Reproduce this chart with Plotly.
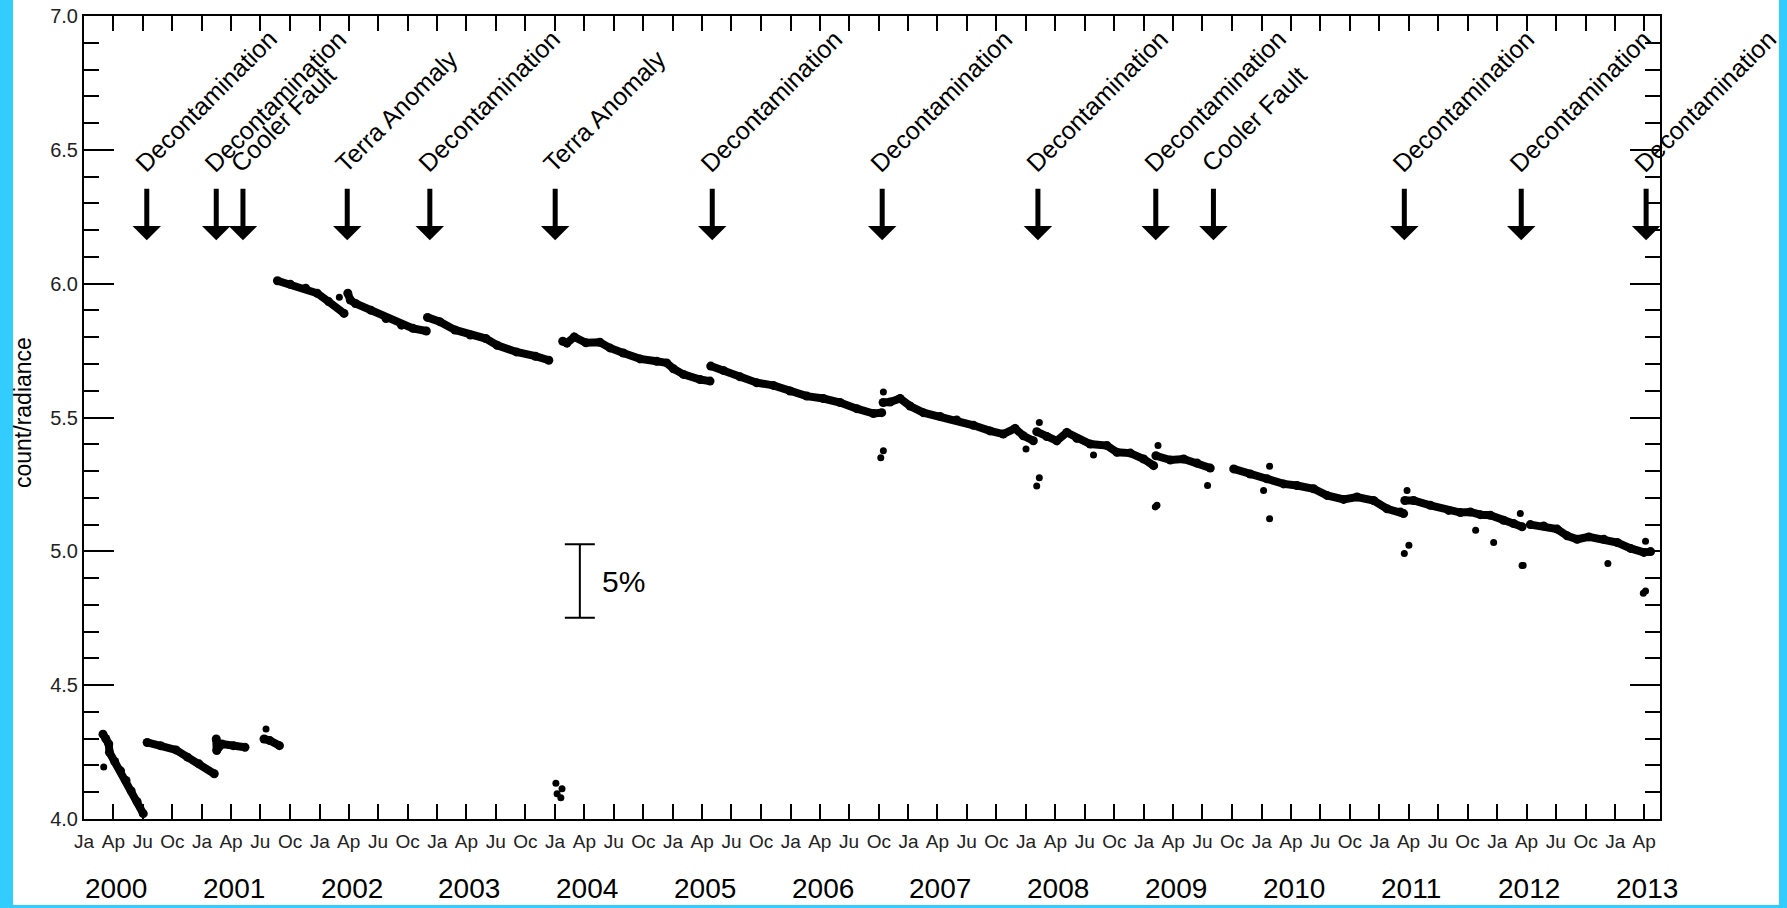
import pandas as pd
import plotly.graph_objects as go

# ---------------- data (decimal years, count/radiance) ----------------
seg_years = [
    [2000.161, 2000.185, 2000.210, 2000.216, 2000.260, 2000.310, 2000.356, 2000.400, 2000.450, 2000.502],
    [2000.535, 2000.649, 2000.779, 2000.877, 2000.974, 2001.104],
    [2001.121, 2001.125, 2001.169, 2001.267, 2001.365],
    [2001.527, 2001.576, 2001.658],
    [2001.641, 2001.750, 2001.881, 2001.979, 2002.076, 2002.207],
    [2002.239, 2002.260, 2002.304, 2002.434, 2002.564, 2002.695, 2002.792, 2002.906],
    [2002.916, 2003.020, 2003.150, 2003.280, 2003.411, 2003.508, 2003.671, 2003.833, 2003.947],
    [2004.065, 2004.100, 2004.163, 2004.261, 2004.380, 2004.465, 2004.578, 2004.720, 2004.861,
     2004.946, 2005.003, 2005.088, 2005.229, 2005.314],
    [2005.320, 2005.427, 2005.569, 2005.711, 2005.852, 2005.994, 2006.136, 2006.277, 2006.419,
     2006.561, 2006.702, 2006.773],
    [2006.785, 2006.844, 2006.929, 2007.014, 2007.127, 2007.269, 2007.410, 2007.552, 2007.693,
     2007.806, 2007.906, 2007.976, 2008.061],
    [2008.090, 2008.175, 2008.260, 2008.345, 2008.430, 2008.543, 2008.685, 2008.770, 2008.883,
     2008.996, 2009.081],
    [2009.100, 2009.223, 2009.336, 2009.449, 2009.562],
    [2009.761, 2009.902, 2010.044, 2010.185, 2010.299, 2010.440, 2010.554, 2010.695, 2010.809,
     2010.950, 2011.064, 2011.177, 2011.205],
    [2011.215, 2011.290, 2011.432, 2011.588, 2011.687, 2011.772, 2011.857, 2011.942, 2012.054,
     2012.139, 2012.211],
    [2012.281, 2012.394, 2012.508, 2012.593, 2012.678, 2012.777, 2012.904, 2013.018, 2013.131,
     2013.244, 2013.301],
]
seg_vals = [
    [4.317, 4.300, 4.280, 4.249, 4.215, 4.180, 4.144, 4.105, 4.065, 4.020],
    [4.286, 4.274, 4.258, 4.231, 4.206, 4.169],
    [4.299, 4.256, 4.280, 4.274, 4.268],
    [4.299, 4.293, 4.274],
    [6.011, 5.998, 5.983, 5.964, 5.933, 5.889],
    [5.964, 5.939, 5.926, 5.901, 5.870, 5.845, 5.833, 5.823],
    [5.874, 5.858, 5.827, 5.808, 5.795, 5.770, 5.745, 5.729, 5.714],
    [5.785, 5.778, 5.801, 5.779, 5.781, 5.760, 5.741, 5.719, 5.710,
     5.704, 5.682, 5.661, 5.642, 5.636],
    [5.692, 5.676, 5.652, 5.630, 5.620, 5.599, 5.580, 5.571, 5.556,
     5.533, 5.515, 5.518],
    [5.556, 5.558, 5.571, 5.543, 5.518, 5.504, 5.491, 5.471, 5.450,
     5.438, 5.459, 5.432, 5.413],
    [5.447, 5.429, 5.413, 5.444, 5.422, 5.401, 5.395, 5.370, 5.367,
     5.345, 5.320],
    [5.357, 5.341, 5.345, 5.330, 5.311],
    [5.308, 5.289, 5.271, 5.252, 5.246, 5.234, 5.209, 5.194, 5.203,
     5.190, 5.159, 5.147, 5.141],
    [5.190, 5.190, 5.172, 5.153, 5.145, 5.147, 5.137, 5.135, 5.116,
     5.104, 5.092],
    [5.100, 5.095, 5.083, 5.058, 5.045, 5.054, 5.045, 5.033, 5.011,
     4.996, 4.999],
]

outlier_years = [2000.167, 2001.544, 2002.167, 2004.007, 2004.059, 2004.017, 2004.049,
                 2006.787, 2006.787, 2006.765, 2007.999, 2008.112, 2008.112, 2008.090,
                 2008.571, 2009.118, 2009.109, 2009.095, 2009.539, 2010.066, 2010.015,
                 2010.066, 2011.234, 2011.250, 2011.211, 2011.817, 2011.970, 2012.196,
                 2012.211, 2012.220, 2012.938, 2013.258, 2013.258, 2013.239]
outlier_vals = [4.194, 4.336, 5.949, 4.134, 4.113, 4.094, 4.079,
                5.595, 5.376, 5.350, 5.382, 5.481, 5.275, 5.244,
                5.360, 5.395, 5.172, 5.166, 5.246, 5.318, 5.227,
                5.122, 5.227, 5.023, 4.992, 5.079, 5.033, 5.141,
                4.947, 4.947, 4.955, 5.038, 4.852, 4.843]

event_years = [2000.532, 2001.121, 2001.348, 2002.234, 2002.936, 2004.001, 2005.333,
               2006.777, 2008.100, 2009.099, 2009.589, 2011.211, 2012.204, 2013.263]
event_labels = ["Decontamination", "Decontamination", "Cooler Fault", "Terra Anomaly",
                "Decontamination", "Terra Anomaly", "Decontamination", "Decontamination",
                "Decontamination", "Decontamination", "Cooler Fault", "Decontamination",
                "Decontamination", "Decontamination"]

year_labels = [str(y) for y in range(2000, 2014)]
month_labels = ["Ja", "Ap", "Ju", "Oc"]

scale_bar_year = 2004.210
scale_bar_center = 4.889
scale_bar_half = 0.1375
scale_bar_text = "5%"

y_title = "count/radiance"


# ---------------- helpers ----------------
def to_date(v):
    y = int(v)
    start = pd.Timestamp(year=y, month=1, day=1)
    end = pd.Timestamp(year=y + 1, month=1, day=1)
    return start + (v - y) * (end - start)


FONT = "Liberation Sans, Arial, sans-serif"
BLACK = "#000000"
CYAN = "#33CCFF"

# plot-area geometry (px)
W, H = 1787, 908
ML, MR, MT, MB = 84, 127, 16, 89
PW, PH = W - ML - MR, H - MT - MB


def px_x(px):
    return (px - ML) / PW


def px_y(py):
    return (H - MB - py) / PH


fig = go.Figure()

# main segments (dense dots drawn as thick band)
xs, ys = [], []
for yrs, vals in zip(seg_years, seg_vals):
    xs += [to_date(v) for v in yrs] + [None]
    ys += list(vals) + [None]
fig.add_trace(go.Scatter(
    x=xs, y=ys, mode="lines+markers",
    line=dict(color=BLACK, width=8),
    marker=dict(color=BLACK, size=9),
    connectgaps=False, showlegend=False, hoverinfo="skip",
))

fig.add_trace(go.Scatter(
    x=[to_date(v) for v in outlier_years], y=outlier_vals, mode="markers",
    marker=dict(color=BLACK, size=7), showlegend=False, hoverinfo="skip",
))

# 5 % scale bar
fig.add_trace(go.Scatter(
    x=[to_date(scale_bar_year)], y=[scale_bar_center], mode="markers",
    marker=dict(size=1, color="rgba(0,0,0,0)"),
    error_y=dict(type="data", array=[scale_bar_half], symmetric=True,
                 color=BLACK, thickness=2, width=15),
    showlegend=False, hoverinfo="skip",
))

annotations = []
# event arrows and labels
arrow_tip, arrow_top, label_base = 6.162, 6.360, 6.393
for yr, lab in zip(event_years, event_labels):
    d = to_date(yr)
    annotations.append(dict(
        x=d, y=arrow_tip, ax=d, ay=arrow_top, xref="x", yref="y", axref="x", ayref="y",
        text="", showarrow=True, arrowhead=1, arrowwidth=5, arrowsize=0.95,
        arrowcolor=BLACK, standoff=0, startstandoff=0,
    ))
    annotations.append(dict(
        x=d, y=label_base, xref="x", yref="y", text=lab, showarrow=False,
        textangle=-45, xanchor="left", yanchor="bottom", xshift=-19,
        font=dict(family=FONT, size=25, color=BLACK), borderpad=0,
    ))

# year labels under the month labels
for yl in year_labels:
    annotations.append(dict(
        x=f"{yl}-04-10", y=px_y(889), xref="x", yref="paper", text=yl,
        showarrow=False, xanchor="center", yanchor="middle",
        font=dict(family=FONT, size=28, color=BLACK),
    ))

# y title
annotations.append(dict(
    x=px_x(23), y=px_y(413), xref="paper", yref="paper", text=y_title, showarrow=False,
    textangle=-90, xanchor="center", yanchor="middle",
    font=dict(family=FONT, size=23, color=BLACK),
))

# 5% text
annotations.append(dict(
    x=to_date(scale_bar_year), y=scale_bar_center, xref="x", yref="y",
    text=scale_bar_text, showarrow=False, xanchor="left", yanchor="middle", xshift=20,
    font=dict(family=FONT, size=30, color=BLACK),
))

# quarterly ticks
tickvals, ticktext = [], []
for y in range(2000, 2014):
    for m, lab in zip([1, 4, 7, 10], month_labels):
        d = pd.Timestamp(year=y, month=m, day=1)
        if d <= pd.Timestamp("2013-05-20"):
            tickvals.append(d)
            ticktext.append(lab)

shapes = [dict(
    type="rect", xref="paper", yref="paper", layer="below",
    x0=px_x(13), x1=px_x(1779), y0=px_y(905), y1=px_y(-20),
    fillcolor="white", line=dict(width=0),
)]

fig.update_layout(
    width=W, height=H, autosize=False,
    margin=dict(l=ML, r=MR, t=MT, b=MB, pad=0, autoexpand=False),
    paper_bgcolor=CYAN, plot_bgcolor="white",
    annotations=annotations, shapes=shapes,
    font=dict(family=FONT, color=BLACK),
)
fig.update_xaxes(
    type="date", range=["2000-01-01", "2013-05-20"], automargin=False,
    tickmode="array", tickvals=tickvals, ticktext=ticktext, tickangle=0,
    ticks="inside", ticklen=15, tickwidth=2, tickcolor=BLACK,
    showline=True, linewidth=2, linecolor=BLACK, mirror="ticks",
    showgrid=False, zeroline=False, ticklabelstandoff=4,
    tickfont=dict(family=FONT, size=19, color="#222222"),
)
fig.update_yaxes(
    range=[4.0, 7.0], tickmode="array", automargin=False,
    tickvals=[4.0, 4.5, 5.0, 5.5, 6.0, 6.5, 7.0],
    ticktext=["4.0", "4.5", "5.0", "5.5", "6.0", "6.5", "7.0"],
    ticks="inside", ticklen=30, tickwidth=2, tickcolor=BLACK,
    minor=dict(tickmode="linear", tick0=4.0, dtick=0.1, ticks="inside", ticklen=15,
               tickwidth=2, tickcolor=BLACK, showgrid=False),
    showline=True, linewidth=2, linecolor=BLACK, mirror="ticks",
    showgrid=False, zeroline=False,
    tickfont=dict(family=FONT, size=20, color="#222222"),
)

fig.write_html(
    "out.html",
    config={"displayModeBar": False},
    post_script="document.body.style.margin='0';document.body.style.overflow='hidden';",
)
